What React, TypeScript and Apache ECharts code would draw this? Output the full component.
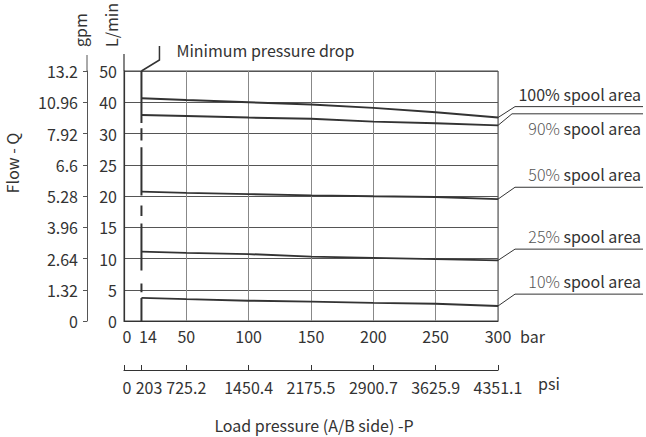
import React, { useEffect, useRef } from "react";
import * as echarts from "echarts";

// Tick values (flow axis is drawn with evenly spaced, non-uniform ticks)
const lpmTicks = [0, 5, 10, 15, 20, 25, 30, 40, 50];
const gpmTicks = ["0", "1.32", "2.64", "3.96", "5.28", "6.6", "7.92", "10.96", "13.2"];
const barTicks = [0, 14, 50, 100, 150, 200, 250, 300];
const psiTicks = ["0", "203", "725.2", "1450.4", "2175.5", "2900.7", "3625.9", "4351.1"];

// Curves: load pressure (bar) vs flow (L/min)
const pressures = [14, 50, 100, 150, 200, 250, 300];
const flow100 = [41.3, 40.7, 40.0, 39.3, 38.2, 36.8, 35.1];
const flow90 = [35.9, 35.6, 35.1, 34.7, 33.8, 33.3, 32.6];
const flow50 = [20.7, 20.5, 20.3, 20.1, 19.95, 19.85, 19.5];
const flow25 = [11.1, 10.9, 10.7, 10.3, 10.1, 9.9, 9.7];
const flow10 = [3.7, 3.5, 3.25, 3.1, 2.9, 2.75, 2.4];

const curveNames = ["100%", "90%", "50%", "25%", "10%"];
const curves = [flow100, flow90, flow50, flow25, flow10];
// flow level (L/min) of each label's leader underline
const leaderLevels = [38.6, 36.3, 21.4, 11.5, 4.3];

// Minimum pressure drop line at 14 bar: solid and dashed pieces (L/min)
const minDropP = 14;
const minDropSolid = [[0, 3.7], [8.1, 15.6], [20.1, 27.8], [33.4, 50]];
const minDropDash = [[4.6, 6.0], [16.8, 18.5], [28.9, 31.7]];

function toAxis(v: number): number {
  for (let i = 0; i < lpmTicks.length - 1; i++) {
    if (v <= lpmTicks[i + 1]) {
      return i + (v - lpmTicks[i]) / (lpmTicks[i + 1] - lpmTicks[i]);
    }
  }
  return lpmTicks.length - 1;
}

const FONT = "'Noto Sans CJK SC', 'Noto Sans', sans-serif";
const DARK = "#333";
const FS = 16;

function segData(segs: number[][]) {
  const out: any[] = [];
  segs.forEach((s, i) => {
    if (i > 0) out.push([minDropP, "-"]);
    out.push([minDropP, toAxis(s[0])]);
    out.push([minDropP, toAxis(s[1])]);
  });
  return out;
}

const richBase = { fontSize: FS, color: DARK, fontFamily: FONT };
const xRich = {
  z: { ...richBase, padding: [0, 0, 0, 6] },
  a: { ...richBase, padding: [0, 0, 0, 13] },
  b: { ...richBase, padding: [0, 0, 0, 15] },
  n: { ...richBase },
};

export default function App() {
  const ref = useRef<HTMLDivElement>(null);
  useEffect(() => {
    if (!ref.current) return;
    const chart = echarts.init(ref.current, null, { renderer: "svg" });
    const lineSeries = curves.map((c, i) => ({
      type: "line",
      name: curveNames[i],
      data: pressures.map((p, j) => [p, toAxis(c[j])]),
      symbol: "none",
      lineStyle: { color: DARK, width: 2 },
      z: 5,
    }));
    chart.setOption({
      animation: false,
      textStyle: { fontFamily: FONT },
      grid: {
        left: 124,
        right: 148,
        top: 71,
        bottom: 116,
        show: true,
        borderColor: "#444",
        borderWidth: 1,
        backgroundColor: "transparent",
      },
      xAxis: [
        {
          type: "value",
          min: 0,
          max: 300,
          interval: 50,
          position: "bottom",
          axisLine: { show: true, lineStyle: { color: DARK, width: 1.2 } },
          axisTick: { show: false },
          axisLabel: {
            customValues: barTicks,
            formatter: (v: number) => {
              const s = String(v);
              if (v === 0) return `{z|${s}}`;
              if (v === minDropP) return `{a|${s}}`;
              return `{n|${s}}`;
            },
            rich: xRich,
            color: DARK,
            fontSize: FS,
            margin: 7,
            fontFamily: FONT,
            hideOverlap: false,
          },
          splitLine: { show: true, lineStyle: { color: "#888", width: 1 } },
        },
        {
          type: "value",
          min: 0,
          max: 300,
          position: "bottom",
          offset: 49,
          axisLine: { show: true, onZero: false, lineStyle: { color: DARK, width: 1.2 } },
          axisTick: { show: true, inside: true, length: 5, customValues: barTicks, lineStyle: { color: DARK } },
          axisLabel: {
            customValues: barTicks,
            formatter: (v: number) => {
              const s = psiTicks[barTicks.indexOf(v)] ?? "";
              if (v === 0) return `{z|${s}}`;
              if (v === minDropP) return `{b|${s}}`;
              return `{n|${s}}`;
            },
            rich: xRich,
            color: DARK,
            fontSize: FS,
            margin: 9,
            fontFamily: FONT,
            hideOverlap: false,
          },
          splitLine: { show: false },
        },
      ],
      yAxis: [
        {
          type: "value",
          min: 0,
          max: 8,
          interval: 1,
          position: "left",
          axisLine: { show: true, lineStyle: { color: DARK, width: 1.2 } },
          axisTick: { show: false },
          axisLabel: {
            formatter: (v: number) => String(lpmTicks[v] ?? ""),
            color: DARK,
            fontSize: FS,
            margin: 7,
            fontFamily: FONT,
          },
          splitLine: { show: true, lineStyle: { color: "#555", width: 1 } },
        },
        {
          type: "value",
          min: 0,
          max: 8,
          interval: 1,
          position: "left",
          offset: 37,
          axisLine: { show: true, onZero: false, lineStyle: { color: "#555", width: 1 } },
          axisTick: { show: true, length: 4, lineStyle: { color: "#555" } },
          axisLabel: {
            formatter: (v: number) => gpmTicks[v] ?? "",
            color: DARK,
            fontSize: FS,
            margin: 9,
            fontFamily: FONT,
          },
          splitLine: { show: false },
        },
      ],
      series: [
        ...lineSeries,
        {
          type: "line",
          name: "Minimum pressure drop",
          data: segData(minDropSolid),
          symbol: "none",
          connectNulls: false,
          lineStyle: { color: DARK, width: 2, cap: "butt" },
          z: 6,
        },
        {
          type: "line",
          name: "Minimum pressure drop (dashed)",
          data: segData(minDropDash),
          symbol: "none",
          connectNulls: false,
          lineStyle: { color: DARK, width: 2, cap: "butt" },
          z: 6,
        },
      ],
    });

    const px = (x: number, v: number) =>
      chart.convertToPixel({ xAxisIndex: 0, yAxisIndex: 0 }, [x, toAxis(v)]) as number[];
    const W = chart.getWidth();
    const topLeft = px(0, 50);
    const botRight = px(300, 0);
    const left = topLeft[0];
    const top = topLeft[1];
    const right = botRight[0];
    const bottom = botRight[1];
    const gpmX = left - 37;

    const txt = (text: string, x: number, y: number, extra: any = {}) => ({
      type: "text",
      x,
      y,
      style: {
        text,
        fill: DARK,
        font: `${FS}px ${FONT}`,
        textAlign: "left",
        verticalAlign: "middle",
        ...extra,
      },
    });

    const graphics: any[] = [];
    // axis line extensions above the grid
    graphics.push({ type: "line", shape: { x1: left, y1: top, x2: left, y2: top - 17 }, style: { stroke: DARK, lineWidth: 1.2 } });
    graphics.push({ type: "line", shape: { x1: gpmX, y1: top, x2: gpmX, y2: top - 16 }, style: { stroke: "#555", lineWidth: 1 } });
    // axis names
    graphics.push({ ...txt("L/min", left - 13, top - 24), rotation: Math.PI / 2 });
    graphics.push({ ...txt("gpm", gpmX - 7, top - 24), rotation: Math.PI / 2 });
    graphics.push({ ...txt("Flow - Q", 12, top + 92, { textAlign: "center" }), rotation: Math.PI / 2 });
    graphics.push(txt("bar", right + 22, bottom + 15));
    graphics.push(txt("psi", right + 40, bottom + 62));
    graphics.push(txt("Load pressure (A/B side) -P", (left + right) / 2 + 3, bottom + 104, { textAlign: "center" }));

    // minimum pressure drop leader
    const md = px(minDropP, 50);
    graphics.push({
      type: "polyline",
      shape: { points: [[md[0], md[1]], [md[0] + 18, md[1] - 11], [md[0] + 18, md[1] - 25]] },
      style: { stroke: DARK, lineWidth: 1.5, fill: "none" },
    });
    graphics.push(txt("Minimum pressure drop", md[0] + 35, md[1] - 21));

    // spool area leaders + labels
    curves.forEach((c, i) => {
      const end = px(300, c[c.length - 1]);
      const lvl = px(300, leaderLevels[i]);
      const ex = end[0] + (i === 1 ? 14 : 17);
      graphics.push({
        type: "polyline",
        shape: { points: [[end[0], end[1]], [ex, lvl[1]], [W - 3, lvl[1]]] },
        style: { stroke: DARK, lineWidth: 1, fill: "none" },
      });
      const dy = i === 1 ? 14 : -13;
      const isMain = i === 0;
      graphics.push({
        type: "text",
        x: W - 5,
        y: lvl[1] + dy,
        style: {
          text: `{p|${curveNames[i]}} spool area`,
          rich: {
            p: { font: `${isMain ? 400 : 300} ${FS}px ${FONT}`, fill: isMain ? DARK : "#555" },
          },
          fill: DARK,
          font: `${FS}px ${FONT}`,
          textAlign: "right",
          verticalAlign: "middle",
        },
      });
    });

    chart.setOption({ graphic: graphics });
    return () => chart.dispose();
  }, []);
  return (
    <div
      ref={ref}
      style={{ position: "fixed", left: 0, top: 0, width: 646, height: 437, background: "#fff" }}
    />
  );
}
